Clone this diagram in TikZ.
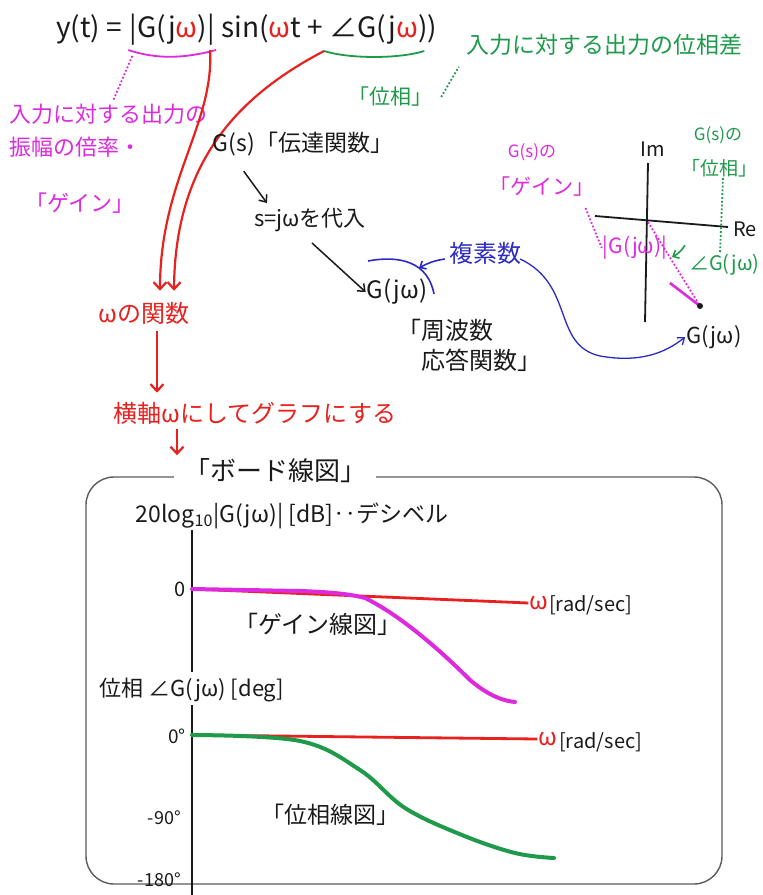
\documentclass[tikz,border=0pt]{standalone}
\usepackage{fontspec}
\setmainfont{Noto Sans CJK JP}
\usepackage{xcolor}
\usetikzlibrary{arrows.meta,positioning}
\definecolor{penred}{HTML}{E8201E}
\definecolor{penmagenta}{HTML}{DE2ADE}
\definecolor{pengreen}{HTML}{1E9A4A}
\definecolor{penblue}{HTML}{2B2BC4}
\definecolor{penink}{HTML}{1A1A1A}
\definecolor{boxgray}{HTML}{5C5C5C}
\tikzset{
  inknote/.style={inner sep=1pt,text=penink,font=\fontsize{22}{27}\selectfont},
  rednote/.style={inknote,text=penred,font=\fontsize{24}{29}\selectfont},
  magnote/.style={inknote,text=penmagenta},
  grnnote/.style={inknote,text=pengreen},
  blunote/.style={inknote,text=penblue,font=\fontsize{24}{29}\selectfont},
  formula/.style={inknote,font=\fontsize{28}{33}\selectfont},
  redarrow/.style={-{Straight Barb[length=7pt,width=13pt]},draw=penred,line width=2.2pt},
  inkarrow/.style={-{Straight Barb[length=6pt,width=10pt]},draw=penink,line width=1.5pt},
  dotline/.style={dotted,line width=1.8pt},
  axisline/.style={draw=penink,line width=1.8pt},
}
\begin{document}
\begin{tikzpicture}[x=1pt,y=-1pt,node distance=2pt]
\useasboundingbox (0,0) rectangle (763,895);

% the formula
\node[formula,anchor=base west] (f1) at (55,37) {y(t) =};
\node[formula,base right=5pt of f1] (f2) {|G(j\textcolor{penred}{ω})|};
\node[formula,base right=4pt of f2] (f3) {sin(\textcolor{penred}{ω}t +};
\node[formula,base right=4pt of f3] (f4) {∠G(j\textcolor{penred}{ω}))};
\coordinate (magL) at ([shift={(0,4)}]f2.south west);
\coordinate (magR) at ([shift={(0,4)}]f2.south east);
\coordinate (grnL) at ([shift={(-4,6)}]f4.south west);
\coordinate (grnR) at ([shift={(-14,6)}]f4.south east);
\draw[penmagenta,line width=1.8pt] (magL) .. controls +(30,10) and +(-30,8) .. (magR);
\draw[pengreen,line width=1.8pt] (grnL) .. controls +(25,8) and +(-25,8) .. (grnR);

% amplitude and phase notes
\node[magnote,align=left,anchor=north west] (gain1) at (8,103) {入力に対する出力の\\[6pt]振幅の倍率・};
\node[magnote,anchor=north west] (gain2) at (24,192) {「ゲイン」};
\draw[penmagenta,dotline] ([shift={(4,6)}]magL) -- ([shift={(105,-2)}]gain1.north west);
\node[grnnote,font=\fontsize{21}{25}\selectfont] (ph1) at (390,97) {「位相」};
\node[grnnote,font=\fontsize{23}{28}\selectfont] (phd) at (604,45) {入力に対する出力の位相差};
\draw[pengreen,dotline] ([xshift=8pt]ph1.east) -- ([shift={(-6,10)}]phd.south west);

% omega function chain
\node[rednote] (wfun) at (144,313) {ωの関数};
\node[rednote] (axisnote) at (255,413) {横軸ωにしてグラフにする};
\draw[redarrow] ([xshift=-6pt]magR) .. controls (214,125) and (160,180) .. ([shift={(16,-10)}]wfun.north);
\draw[redarrow] (grnL) .. controls (240,95) and (175,160) .. ([shift={(30,-10)}]wfun.north);
\draw[redarrow] ([shift={(13,6)}]wfun.south) -- ([shift={(-98,-8)}]axisnote.north);

% transfer function chain
\node[inknote,font=\fontsize{23}{28}\selectfont] (tf) at (303,144) {G(s)「伝達関数」};
\node[inknote] (subs) at (310,220) {s=jωを代入};
\node[inknote,font=\fontsize{24}{29}\selectfont] (gjw) at (397,292) {G(jω)};
\node[inknote,font=\fontsize{24}{30}\selectfont,align=left,anchor=north west] (frf) at (396,318) {「周波数\\\phantom{「}応答関数」};
\draw[inkarrow] ([shift={(32,14)}]tf.south west) -- ([shift={(14,-4)}]subs.north west);
\draw[inkarrow] ([shift={(2,10)}]subs.south) -- (gjw.west);

% complex number
\node[blunote] (cplx) at (485,253) {複素数};
\coordinate (arcL) at (368,261);
\coordinate (arcR) at (434,294);
\coordinate (arcTip) at (419,268);
\draw[penblue,line width=1.6pt] (arcL) .. controls (400,255) and (428,262) .. (arcR);
\draw[-{Straight Barb[length=5pt,width=9pt]},penblue,line width=1.6pt] ([shift={(-3,6)}]cplx.west) to[bend right=10] (arcTip);

% complex plane
\coordinate (o) at (648,222);
\coordinate (imTop) at (648,163);
\coordinate (imBot) at (645,322);
\coordinate (reL) at (595,216);
\coordinate (reR) at (728,227);
\draw[axisline] (imTop) -- (imBot);
\draw[axisline] (reL) -- (reR);
\node[inknote,font=\fontsize{20}{24}\selectfont] (im) at (653,149) {Im};
\node[inknote,font=\fontsize{20}{24}\selectfont] (re) at (745,229) {Re};
\coordinate (pt) at (700,306);
\coordinate (segA) at (670,283);
\draw[penmagenta,dotline] (o) -- (pt);
\draw[penmagenta,line width=2.6pt] (segA) -- (pt);
\fill[penink] (pt) circle (3);
\node[inknote,font=\fontsize{22}{26}\selectfont] (gpt) at (714,337) {G(jω)};
\draw[-{Straight Barb[length=6pt,width=9pt]},penblue,line width=1.3pt] ([shift={(-2,6)}]cplx.east) .. controls (575,285) and (552,345) .. (600,356) .. controls (640,363) and (665,353) .. (gpt.west);
\node[magnote,font=\fontsize{17}{20}\selectfont] (cgain1) at (532,152) {G(s)の};
\node[magnote,font=\fontsize{21}{24}\selectfont] (cgain2) at (542,187) {「ゲイン」};
\node[magnote,font=\fontsize{21}{24}\selectfont] (cabs) at (635,248) {|G(jω)|};
\draw[penmagenta,dotline] ([shift={(-10,10)}]cgain2.south east) -- (cabs.west);
\node[grnnote,font=\fontsize{17}{20}\selectfont] (cph1) at (718,135) {G(s)の};
\node[grnnote,font=\fontsize{19}{23}\selectfont] (cph2) at (719,168) {「位相」};
\node[grnnote,font=\fontsize{20}{24}\selectfont,anchor=west] (cang) at (688,265) {∠G(jω)};
\coordinate (angTip) at (672,257);
\draw[pengreen,dotline] ([xshift=4pt]cph2.south) -- ([xshift=32pt]cang.north west);
\draw[-{Straight Barb[length=5pt,width=9pt]},pengreen,line width=1.6pt] ([shift={(-3,-8)}]cang.north west) to[bend left=15] (angTip);

% bode diagram box
\draw[boxgray,line width=1.4pt,rounded corners=28pt] (86,477) rectangle (722,884);
\node[inknote,font=\fontsize{26}{30}\selectfont,fill=white,inner xsep=10pt] (bode) at (275,471) {「ボード線図」};
\draw[redarrow] ([shift={(-78,4)}]axisnote.south) -- ([shift={(-78,30)}]axisnote.south);

% gain plot
\node[inknote,font=\fontsize{23}{27}\selectfont] (dbl) at (292,516) {20log\textsubscript{10}|G(jω)| [dB]‥デシベル};
\coordinate (gTop) at (192,530);
\coordinate (gBot) at (192,672);
\coordinate (g0) at (192,589);
\draw[axisline] (gTop) -- (gBot);
\node[inknote,font=\fontsize{20}{24}\selectfont,anchor=east] (zero) at (187,589) {0};
\node[rednote,font=\fontsize{24}{28}\selectfont] (gw) at (539,603) {ω};
\node[inknote,font=\fontsize{20}{24}\selectfont,anchor=west] (grad) at (548,605) {[rad/sec]};
\draw[penred,line width=2.8pt] (g0) -- (gw.west);
\draw[penmagenta,line width=4pt,line cap=round] (g0) -- (300,591) .. controls (330,592) and (350,594) .. (365,598) .. controls (400,615) and (440,650) .. (470,680) .. controls (490,697) and (505,701) .. (515,702);
\node[inknote,font=\fontsize{24}{28}\selectfont] (gainplot) at (318,624) {「ゲイン線図」};

% phase plot
\node[inknote,font=\fontsize{22}{26}\selectfont] (phl) at (192,690) {位相 ∠G(jω) [deg]};
\coordinate (pTop) at (192,705);
\coordinate (pBot) at (192,895);
\coordinate (p0) at (192,735);
\draw[axisline] (pTop) -- (pBot);
\node[inknote,font=\fontsize{19}{23}\selectfont,anchor=east] (deg0) at (187,736) {0°};
\node[inknote,font=\fontsize{18}{22}\selectfont,anchor=east] (deg90) at (182,818) {-90°};
\node[inknote,font=\fontsize{18}{22}\selectfont,anchor=east] (deg180) at (182,880) {-180°};
\node[rednote,font=\fontsize{24}{28}\selectfont] (pw) at (548,739) {ω};
\node[inknote,font=\fontsize{20}{24}\selectfont,anchor=west] (prad) at (558,742) {[rad/sec]};
\draw[penred,line width=2.8pt] (p0) -- (pw.west);
\draw[pengreen,line width=4pt,line cap=round] plot[smooth,tension=0.6] coordinates {(192,735) (300,741) (360,770) (405,808) (462,835) (515,853) (554,858)};
\node[inknote,font=\fontsize{23}{27}\selectfont] (phaseplot) at (330,815) {「位相線図」};
\end{tikzpicture}
\end{document}
